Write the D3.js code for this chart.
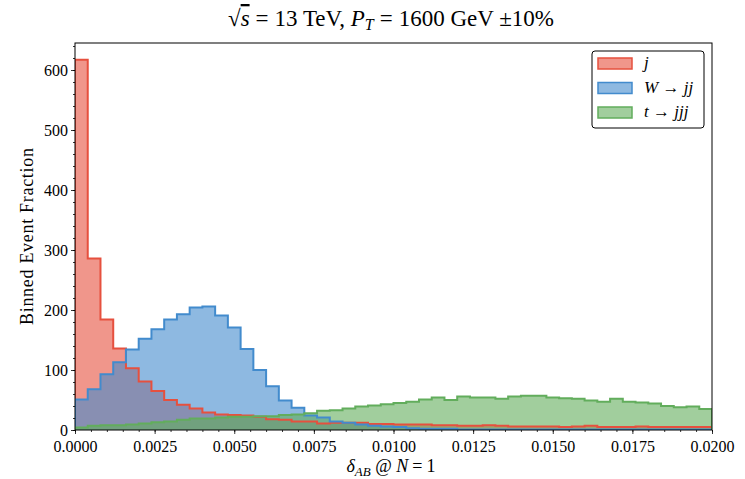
<!DOCTYPE html>
<html>
<head>
<meta charset="utf-8">
<script src="https://cdn.jsdelivr.net/npm/d3@7"></script>
<style>
  body { margin: 0; background: #fff; }
  svg text { font-family: "Liberation Serif", "Times New Roman", serif; fill: #000; }
</style>
</head>
<body>
<svg id="chart" width="745" height="479"></svg>
<script>
// histogram data, 50 bins of width 0.0004 over [0, 0.02]
const binWidth = 0.0004;
const jetValues = [617, 286, 184, 136, 103, 81, 65, 50, 42, 36, 29, 26, 25, 24, 22, 18, 17, 14, 14, 11,
                   12, 12, 12, 10, 10, 9, 9, 9, 8, 8, 7, 7, 8, 7, 6, 6, 6, 6, 5, 6,
                   7, 5, 5, 5, 6, 5, 5, 5, 5, 5];
const wValues = [51, 68, 93, 113, 134, 152, 168, 184, 193, 204, 206, 191, 171, 135, 100, 73, 49, 37, 24, 21,
                 14, 12, 9, 7, 6, 5, 3, 2, 2, 2, 1, 1, 1, 1, 1, 1, 1, 1, 1, 1,
                 1, 1, 1, 1, 1, 1, 1, 1, 1, 1];
const topValues = [4, 7, 8, 8, 9, 11, 13, 14, 17, 19, 19, 21, 22, 22, 23, 23, 25, 26, 28, 32,
                   33, 36, 39, 41, 43, 45, 47, 51, 54, 50, 56, 54, 54, 52, 56, 57, 57, 54, 53, 52,
                   49, 47, 52, 47, 46, 44, 40, 38, 39, 35];
const xTicks = [0, 0.0025, 0.005, 0.0075, 0.01, 0.0125, 0.015, 0.0175, 0.02];
const yTicks = [0, 100, 200, 300, 400, 500, 600];

const series = [
    {name: 'j', values: jetValues, color: '#e6503e'},
    {name: 'W', values: wValues, color: '#428bcd'},
    {name: 't', values: topValues, color: '#62ad5c'}
];

let svg = d3.select('#chart');
const margin = {left: 75, right: 33, top: 43, bottom: 49};
const width = 745 - margin.left - margin.right;
const height = 479 - margin.top - margin.bottom;

let xScale = d3.scaleLinear().domain([0, 0.02]).range([0, width]);
let yScale = d3.scaleLinear().domain([0, 645]).range([height, 0]);

let g = svg.append('g').attr('transform', `translate(${margin.left},${margin.top})`);

g.append('clipPath').attr('id', 'clip')
    .append('rect').attr('width', width).attr('height', height);

let fills = g.append('g').attr('clip-path', 'url(#clip)');
let outlines = g.append('g').attr('clip-path', 'url(#clip)');

function stepPoints(values) {
    let pts = values.map((v, i) => [i * binWidth, v]);
    pts.push([values.length * binWidth, values[values.length - 1]]);
    return pts;
}

let area = d3.area()
    .x(d => xScale(d[0]))
    .y0(yScale(0))
    .y1(d => yScale(d[1]))
    .curve(d3.curveStepAfter);

let line = d3.line()
    .x(d => xScale(d[0]))
    .y(d => yScale(d[1]))
    .curve(d3.curveStepAfter);

series.forEach(s => {
    let pts = stepPoints(s.values);
    fills.append('path')
        .attr('d', area(pts))
        .attr('fill', s.color)
        .attr('fill-opacity', 0.6);
    let outline = [[0, 0]].concat(pts, [[pts[pts.length - 1][0], 0]]);
    outlines.append('path')
        .attr('d', line(outline))
        .attr('fill', 'none')
        .attr('stroke', s.color)
        .attr('stroke-width', 2);
});

// axes
let xAxis = g.append('g').attr('transform', `translate(0,${height})`)
    .call(d3.axisBottom(xScale).tickValues(xTicks).tickFormat(d3.format('.4f')).tickSize(4).tickSizeOuter(0));
let xMinor = g.append('g').attr('transform', `translate(0,${height})`)
    .call(d3.axisBottom(xScale).tickValues(d3.range(0, 41).map(i => i * 0.0005)).tickFormat('').tickSize(2).tickSizeOuter(0));
let yAxis = g.append('g')
    .call(d3.axisLeft(yScale).tickValues(yTicks).tickSize(4).tickSizeOuter(0));
let yMinor = g.append('g')
    .call(d3.axisLeft(yScale).tickValues(d3.range(0, 33).map(i => i * 20)).tickFormat('').tickSize(2).tickSizeOuter(0));

[xAxis, xMinor, yAxis, yMinor].forEach(a => {
    a.select('.domain').remove();
    a.selectAll('line').attr('stroke', '#000').attr('stroke-width', 0.8);
});
xAxis.selectAll('text').attr('font-size', 16).attr('y', 7).attr('dy', '15px');
yAxis.selectAll('text').attr('font-size', 16).attr('x', -7).attr('dy', '0.34em');

g.append('rect')
    .attr('width', width).attr('height', height)
    .attr('fill', 'none').attr('stroke', '#000').attr('stroke-width', 1);

// title
let title = svg.append('text')
    .attr('x', 391).attr('y', 26)
    .attr('text-anchor', 'middle').attr('font-size', 23);
title.append('tspan').text('\u221A');
title.append('tspan').attr('font-style', 'italic').style('text-decoration', 'overline').text('s');
title.append('tspan').attr('dx', 6).text('=');
title.append('tspan').attr('dx', 6).text('13 TeV, ');
title.append('tspan').attr('font-style', 'italic').text('P');
title.append('tspan').attr('font-style', 'italic').attr('font-size', 16).attr('dy', 4).text('T');
title.append('tspan').attr('dy', -4).attr('dx', 6).text('=');
title.append('tspan').attr('dx', 6).text('1600 GeV \u00B110%');

// axis labels
let xLabel = svg.append('text')
    .attr('x', 391).attr('y', 472)
    .attr('text-anchor', 'middle').attr('font-size', 18);
xLabel.append('tspan').attr('font-style', 'italic').text('\u03B4');
xLabel.append('tspan').attr('font-style', 'italic').attr('font-size', 13).attr('dy', 4).text('AB');
xLabel.append('tspan').attr('dy', -4).text(' @ ');
xLabel.append('tspan').attr('font-style', 'italic').text('N');
xLabel.append('tspan').attr('dx', 4).text('=');
xLabel.append('tspan').attr('dx', 4).text('1');

svg.append('text')
    .attr('transform', `translate(33,${margin.top + height / 2}) rotate(-90)`)
    .attr('text-anchor', 'middle').attr('font-size', 18)
    .attr('textLength', 177).attr('lengthAdjust', 'spacing')
    .text('Binned Event Fraction');

// legend
let legend = svg.append('g').attr('transform', 'translate(592,51)');
legend.append('rect')
    .attr('width', 112).attr('height', 77).attr('rx', 3)
    .attr('fill', '#fff').attr('stroke', '#000').attr('stroke-width', 1);
const legendLabels = [
    [['j', true]],
    [['W', true], [' \u2192 ', false], ['jj', true]],
    [['t', true], [' \u2192 ', false], ['jjj', true]]
];
series.forEach((s, i) => {
    let row = legend.append('g').attr('transform', `translate(6,${7 + i * 24.5})`);
    row.append('rect')
        .attr('width', 34).attr('height', 11)
        .attr('fill', s.color).attr('fill-opacity', 0.6)
        .attr('stroke', s.color).attr('stroke-width', 1.5);
    let t = row.append('text').attr('x', 46).attr('y', 10).attr('font-size', 17);
    legendLabels[i].forEach(p => {
        t.append('tspan').attr('font-style', p[1] ? 'italic' : 'normal').text(p[0]);
    });
});
</script>
</body>
</html>
